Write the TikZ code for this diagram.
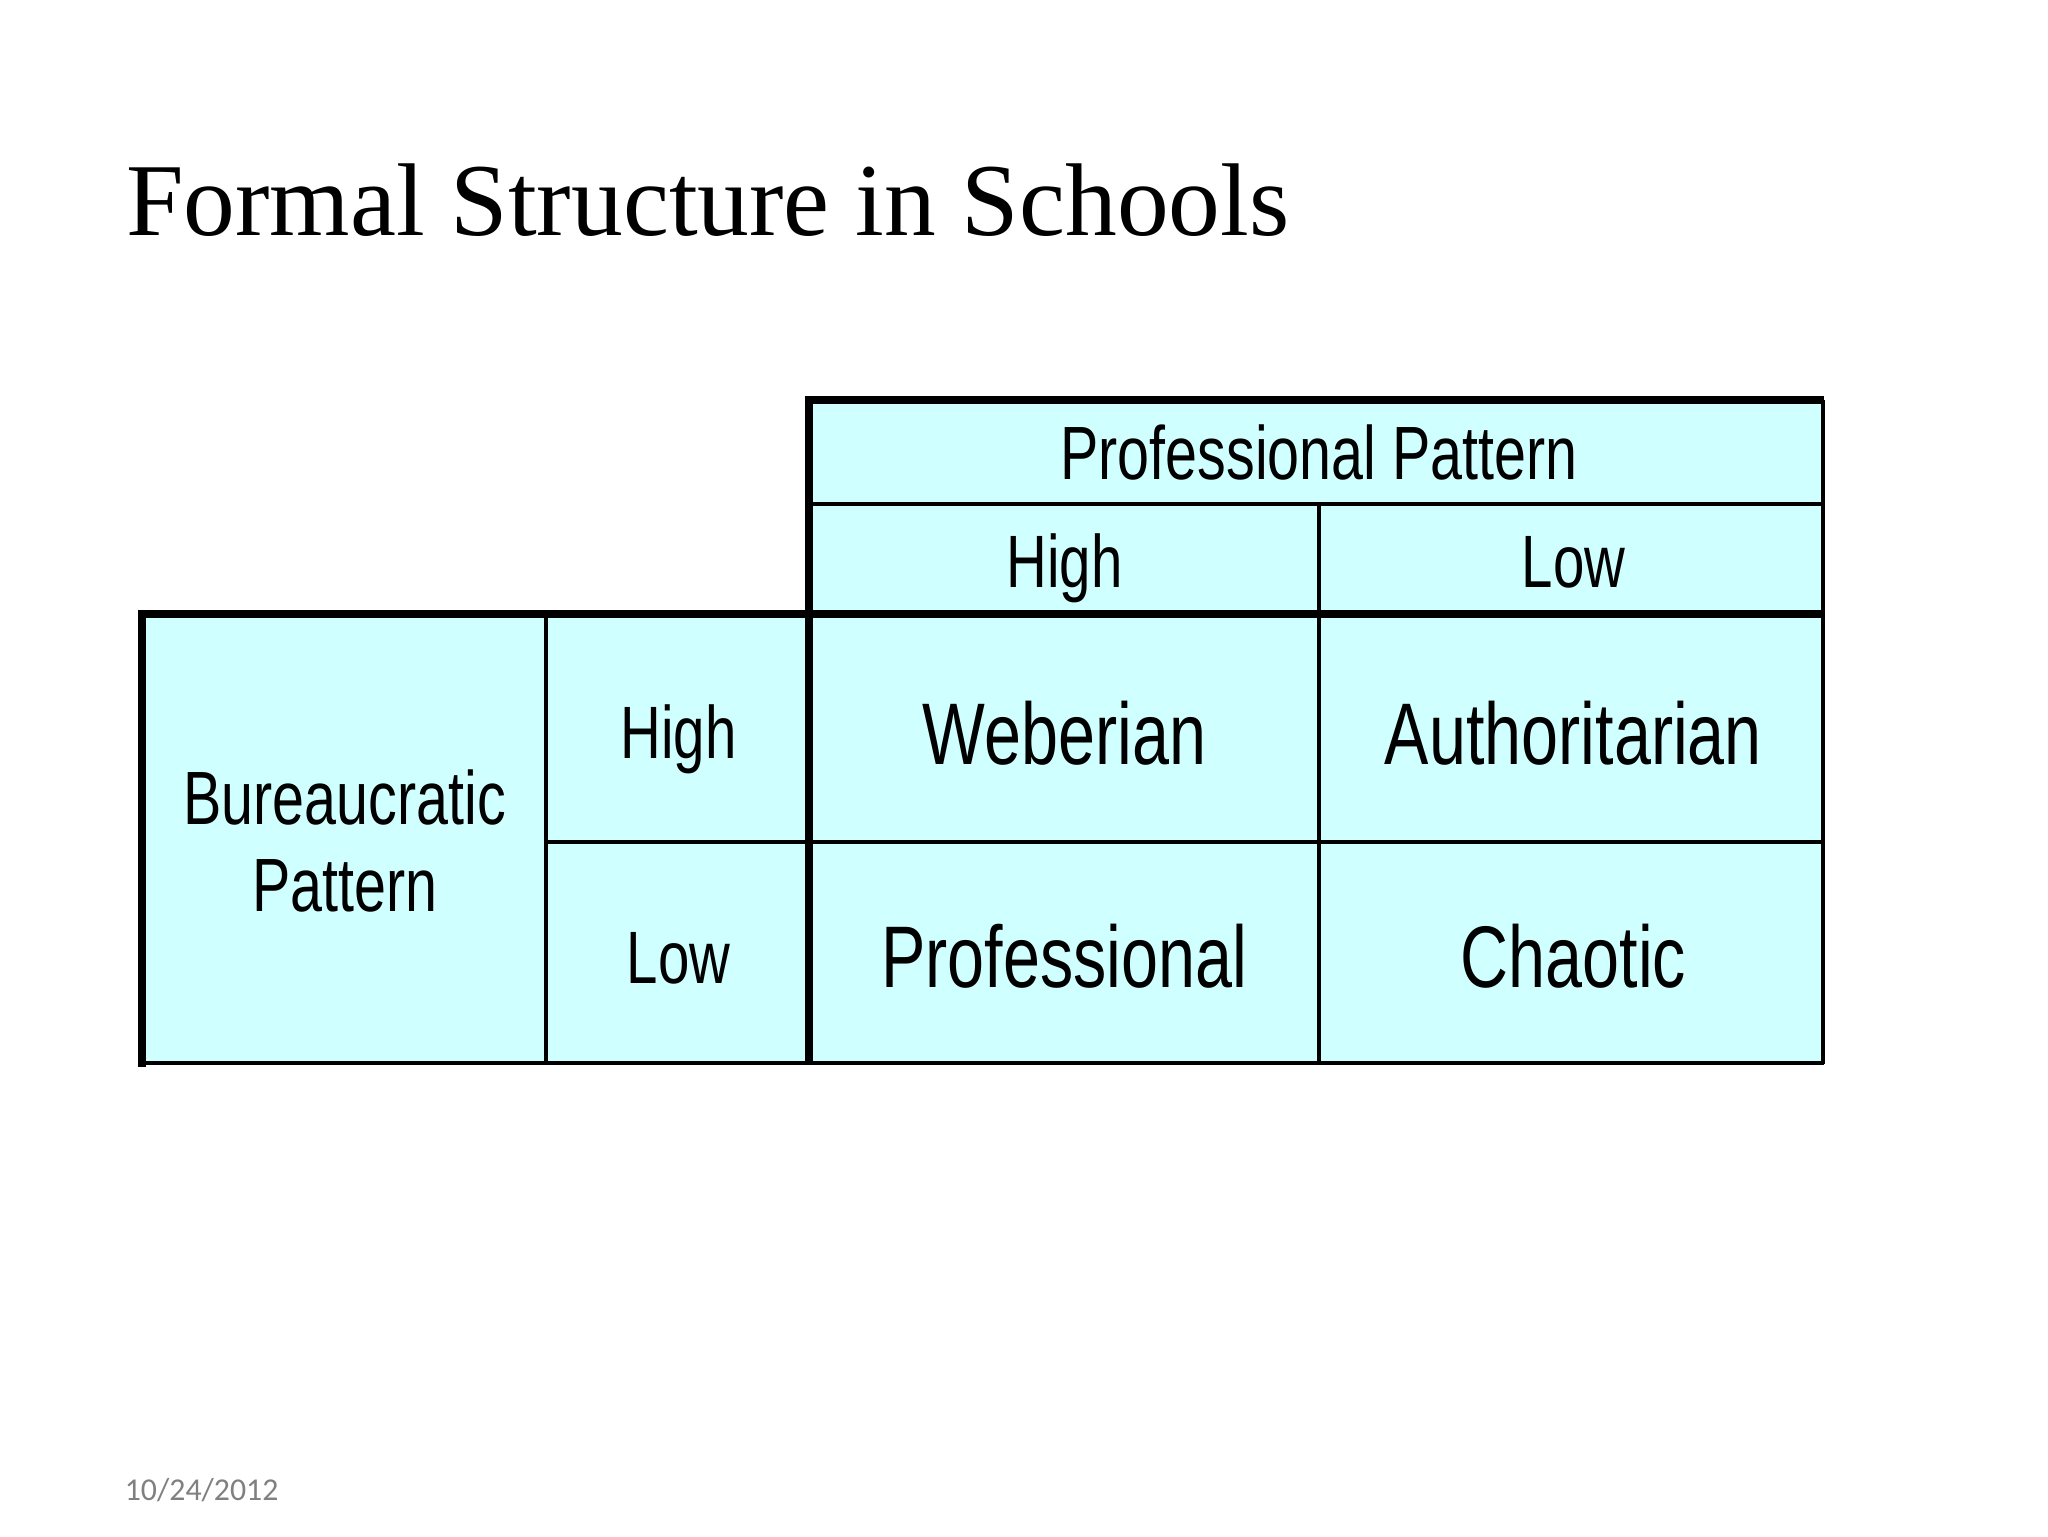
\documentclass[tikz,border=0pt]{standalone}
\usepackage{fontspec}
\setmainfont{Liberation Serif}
\newfontfamily\narrowf[FakeStretch=0.76]{Liberation Sans}
\newfontfamily\datef{Carlito}
\definecolor{cellc}{HTML}{D0FFFF}
\begin{document}
\begin{tikzpicture}[x=1pt,y=-1pt,
  txt/.style={font=\narrowf, align=center, inner sep=0pt, anchor=base},
  thin/.style={line width=3pt},
  thick/.style={line width=6pt}]
\useasboundingbox (0,0) rectangle (1545,1159);
\fill[white] (0,0) rectangle (1545,1159);
\node[anchor=base west, inner sep=0pt, font=\fontsize{78}{86}\selectfont] (title) at (95,178) {Formal Structure in Schools};
% fills
\fill[cellc] (610,302) rectangle (1375,463);
\fill[cellc] (107,463) rectangle (1375,802);
% thin lines
\draw[thin] (610,380) -- (1375,380);
\draw[thin] (995,380) -- (995,802);
\draw[thin] (412,635) -- (1375,635);
\draw[thin] (412,463) -- (412,802);
\draw[thin] (1375,302) -- (1375,803);
\draw[thin] (107,802) -- (1376,802);
% thick lines
\draw[thick] (607,302) -- (1376,302);
\draw[thick] (610,299) -- (610,803);
\draw[thick] (104,463) -- (1376,463);
\draw[thick] (107,460) -- (107,805);
% texts
\node[txt, font=\narrowf\fontsize{57}{60}\selectfont] (pp) at (995,362) {Professional Pattern};
\node[txt, font=\narrowf\fontsize{56}{60}\selectfont] (ph) at (803,443) {High};
\node[txt, font=\narrowf\fontsize{56}{60}\selectfont] (pl) at (1187,443) {Low};
\node[txt, font=\narrowf\fontsize{57}{66}\selectfont] (bp1) at (260,622) {Bureaucratic};
\node[txt, font=\narrowf\fontsize{57}{66}\selectfont] (bp2) at (260,688) {Pattern};
\node[txt, font=\narrowf\fontsize{56}{60}\selectfont] (bh) at (512,572) {High};
\node[txt, font=\narrowf\fontsize{56}{60}\selectfont] (bl) at (512,742) {Low};
\node[txt, font=\narrowf\fontsize{66}{70}\selectfont] (w) at (803,577) {Weberian};
\node[txt, font=\narrowf\fontsize{66}{70}\selectfont] (a) at (1187,577) {Authoritarian};
\node[txt, font=\narrowf\fontsize{66}{70}\selectfont] (p) at (803,745) {Professional};
\node[txt, font=\narrowf\fontsize{66}{70}\selectfont] (c) at (1187,745) {Chaotic};
\node[anchor=base west, inner sep=0pt, text=gray, font=\datef\fontsize{24}{26}\selectfont] (date) at (94,1132) {10/24/2012};
\end{tikzpicture}
\end{document}
